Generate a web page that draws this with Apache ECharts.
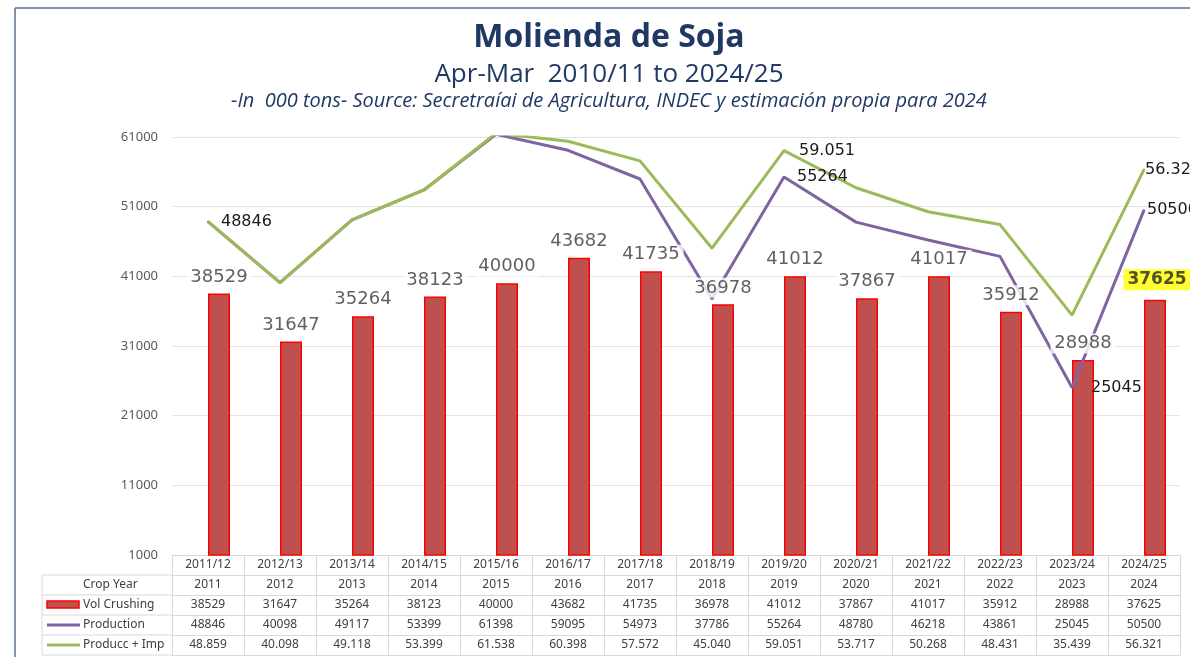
<!DOCTYPE html>
<html>
<head>
<meta charset="utf-8">
<title>Molienda de Soja</title>
<script src="https://cdn.jsdelivr.net/npm/echarts@6/dist/echarts.min.js"></script>
<style>
  html, body { margin: 0; padding: 0; background: #fff; }
  #chart { width: 1190px; height: 657px; }
</style>
</head>
<body>
<div id="chart"></div>
<script>
  // crop years (x axis) and the "Crop Year" row of the table
  const cropYears = ['2011/12', '2012/13', '2013/14', '2014/15', '2015/16', '2016/17', '2017/18',
    '2018/19', '2019/20', '2020/21', '2021/22', '2022/23', '2023/24', '2024/25'];
  const yearRow = ['2011', '2012', '2013', '2014', '2015', '2016', '2017',
    '2018', '2019', '2020', '2021', '2022', '2023', '2024'];

  // series values, 000 tons
  const volCrushing = [38529, 31647, 35264, 38123, 40000, 43682, 41735, 36978, 41012, 37867, 41017, 35912, 28988, 37625];
  const production = [48846, 40098, 49117, 53399, 61398, 59095, 54973, 37786, 55264, 48780, 46218, 43861, 25045, 50500];
  const produccImp = [48859, 40098, 49118, 53399, 61538, 60398, 57572, 45040, 59051, 53717, 50268, 48431, 35439, 56321];

  // which points carry a label on the lines
  const productionLabelIdx = [0, 4, 8, 12, 13];
  const produccImpLabelIdx = [8, 13];
  const highlightIdx = 13;

  const yMin = 1000, yMax = 61000, yStep = 10000;

  // 56321 -> "56.321"
  function dotted(v) {
    return String(v).replace(/\B(?=(\d{3})+(?!\d))/g, '.');
  }

  const gridColor = '#D9D9D9';
  const tableText = {fontSize: 12, color: '#404040', fontFamily: 'Noto Sans', margin: 4};

  // one table row = an extra category axis under the plot
  function rowAxis(data, offset, showLabel) {
    return {
      type: 'category',
      data: data,
      position: 'bottom',
      offset: offset,
      axisLine: {show: true, lineStyle: {color: gridColor, width: 1}},
      axisTick: {show: showLabel, length: 20, lineStyle: {color: gridColor}},
      axisLabel: Object.assign({show: showLabel, interval: 0}, tableText)
    };
  }

  function lineData(values, idxList, distances) {
    return values.map((v, i) => {
      if (idxList.indexOf(i) < 0) return v;
      let item = {value: v, label: {show: true}};
      if (distances[i] !== undefined) item.label.distance = distances[i];
      return item;
    });
  }

  const barLabelData = volCrushing.map((v, i) => {
    if (i !== highlightIdx) return v;
    return {
      value: v,
      label: {fontWeight: 'bold', fontSize: 17, color: '#262626', backgroundColor: '#FFFF00', padding: [2, 4], offset: [13, -3]}
    };
  });

  const titleColor = '#1F3864';

  let myChart = echarts.init(document.getElementById('chart'));
  myChart.setOption({
    backgroundColor: '#fff',
    animation: false,
    grid: {left: 172, right: 10, top: 137, bottom: 102},
    xAxis: [
      {
        type: 'category',
        data: cropYears,
        position: 'bottom',
        axisLine: {show: true, lineStyle: {color: gridColor, width: 1}},
        axisTick: {show: true, length: 20, lineStyle: {color: gridColor}},
        axisLabel: Object.assign({interval: 0}, tableText)
      },
      rowAxis(yearRow, 20, true),
      rowAxis(volCrushing, 40, true),
      rowAxis(production, 60, true),
      rowAxis(produccImp.map(dotted), 80, true),
      rowAxis(cropYears, 100, false)
    ],
    yAxis: {
      type: 'value',
      min: yMin,
      max: yMax,
      interval: yStep,
      axisLine: {show: false},
      axisTick: {show: false},
      axisLabel: {fontSize: 13, color: '#595959', fontFamily: 'Noto Sans', margin: 14, formatter: v => String(v)},
      splitLine: {lineStyle: {color: '#E3E3E3', width: 1}}
    },
    series: [
      {
        // empty slot: Excel leaves the bar on the right half of the category
        name: 'gap',
        type: 'bar',
        data: [],
        barWidth: 22,
        barGap: '0%'
      },
      {
        name: 'Vol Crushing',
        type: 'bar',
        data: volCrushing,
        barWidth: 22,
        barGap: '0%',
        z: 2,
        itemStyle: {color: '#C0504D', borderColor: '#FF0000', borderWidth: 1.5}
      },
      {
        name: 'Production',
        type: 'line',
        data: lineData(production, productionLabelIdx, {12: 18, 13: 2}),
        symbol: 'circle',
        symbolSize: 2,
        z: 3,
        itemStyle: {color: '#8064A2'},
        lineStyle: {color: '#8064A2', width: 3},
        label: {show: false, position: 'right', distance: 12, fontSize: 16, color: '#1A1A1A', fontFamily: 'DejaVu Sans'}
      },
      {
        name: 'Producc + Imp',
        type: 'line',
        data: lineData(produccImp, produccImpLabelIdx, {13: 0}),
        symbol: 'circle',
        symbolSize: 2,
        z: 3,
        itemStyle: {color: '#9BBB59'},
        lineStyle: {color: '#9BBB59', width: 3},
        label: {
          show: false, position: 'right', distance: 14, fontSize: 16, color: '#1A1A1A', fontFamily: 'DejaVu Sans',
          formatter: p => dotted(p.value)
        }
      },
      {
        // bar value labels, drawn above the lines with a white box
        name: 'crush labels',
        type: 'scatter',
        data: barLabelData,
        symbol: 'circle',
        symbolSize: 1,
        z: 10,
        itemStyle: {color: 'rgba(0,0,0,0)'},
        label: {
          show: true, position: 'top', distance: 6, offset: [11, 0],
          fontSize: 18, color: '#383838', fontFamily: 'DejaVu Sans',
          backgroundColor: '#fff', padding: [1, 4]
        }
      }
    ],
    graphic: [
      // frame
      {type: 'line', shape: {x1: 15, y1: 8, x2: 15, y2: 657}, style: {stroke: '#5B6F95', lineWidth: 1.5}},
      {type: 'line', shape: {x1: 15, y1: 8, x2: 1190, y2: 8}, style: {stroke: '#5B6F95', lineWidth: 1.5}},
      // titles
      {type: 'text', x: 609, y: 38, style: {text: 'Molienda de Soja', fill: titleColor, font: 'bold 32px "Open Sans"', textAlign: 'center', textVerticalAlign: 'middle'}},
      {type: 'text', x: 609, y: 75, style: {text: 'Apr-Mar  2010/11 to 2024/25', fill: titleColor, font: '26px "Open Sans"', textAlign: 'center', textVerticalAlign: 'middle'}},
      {type: 'text', x: 609, y: 101, style: {text: '-In  000 tons- Source: Secretraíai de Agricultura, INDEC y estimación propia para 2024', fill: titleColor, font: 'italic 20px "Open Sans"', textAlign: 'center', textVerticalAlign: 'middle'}},
      // table row headers
      {type: 'line', shape: {x1: 42, y1: 574.5, x2: 42, y2: 654.5}, style: {stroke: gridColor, lineWidth: 1}},
      {type: 'line', shape: {x1: 42, y1: 575, x2: 172, y2: 575}, style: {stroke: gridColor, lineWidth: 1}},
      {type: 'line', shape: {x1: 42, y1: 595, x2: 172, y2: 595}, style: {stroke: gridColor, lineWidth: 1}},
      {type: 'line', shape: {x1: 42, y1: 615, x2: 172, y2: 615}, style: {stroke: gridColor, lineWidth: 1}},
      {type: 'line', shape: {x1: 42, y1: 635, x2: 172, y2: 635}, style: {stroke: gridColor, lineWidth: 1}},
      {type: 'line', shape: {x1: 42, y1: 655, x2: 172, y2: 655}, style: {stroke: gridColor, lineWidth: 1}},
      {type: 'text', x: 83, y: 585, style: {text: 'Crop Year', fill: '#404040', font: '12px "Noto Sans"', textVerticalAlign: 'middle'}},
      {type: 'rect', shape: {x: 47, y: 601, width: 32, height: 7}, style: {fill: '#C0504D', stroke: '#FF0000', lineWidth: 1.5}},
      {type: 'text', x: 83, y: 605, style: {text: 'Vol Crushing', fill: '#404040', font: '12px "Noto Sans"', textVerticalAlign: 'middle'}},
      {type: 'line', shape: {x1: 47, y1: 625, x2: 80, y2: 625}, style: {stroke: '#8064A2', lineWidth: 3}},
      {type: 'text', x: 83, y: 625, style: {text: 'Production', fill: '#404040', font: '12px "Noto Sans"', textVerticalAlign: 'middle'}},
      {type: 'line', shape: {x1: 47, y1: 645, x2: 80, y2: 645}, style: {stroke: '#9BBB59', lineWidth: 3}},
      {type: 'text', x: 83, y: 645, style: {text: 'Producc + Imp', fill: '#404040', font: '12px "Noto Sans"', textVerticalAlign: 'middle'}}
    ]
  });
</script>
</body>
</html>
